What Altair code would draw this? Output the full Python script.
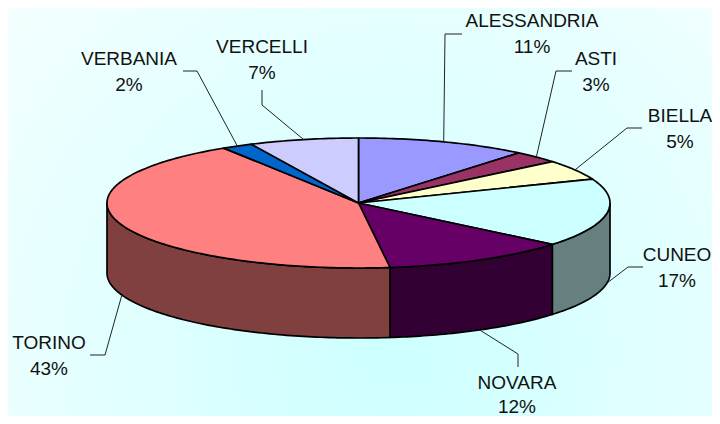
import altair as alt
import numpy as np
import pandas as pd

# ---- data ----
names = ["ALESSANDRIA", "ASTI", "BIELLA", "CUNEO", "NOVARA", "TORINO", "VERBANIA", "VERCELLI"]
shares = [11, 3, 5, 17, 12, 43, 2, 7]
top_colors = ["#9999FF", "#993366", "#FFFFCC", "#CCFFFF", "#660066", "#FF8080", "#0066CC", "#CCCCFF"]
side_colors = ["#4D4D80", "#4D1A33", "#808066", "#668080", "#330033", "#804040", "#003366", "#666680"]

# ---- layout (reference pixel space) ----
CX, CY, RX, RY, DEPTH = 358.5, 203.0, 251.5, 65.0, 70.0
label_x = [532, 596, 680, 677, 517, 49, 129, 262]
label_y = [27, 65, 122, 261, 389, 349, 65, 53]
pct_gap = [25.5, 25.5, 25.5, 25.5, 24.0, 25.5, 25.5, 25.5]
leader_elbows = [
    [(445, 34), (462, 34)],
    [(556, 71), (572, 71)],
    [(627, 128), (642, 128)],
    [(628, 267), (643, 267)],
    [(518, 354), (518, 367)],
    [(105, 355), (90, 355)],
    [(197, 71), (183, 71)],
    [(262, 105), (262, 90)],
]


def pt(theta_deg, drop=0.0):
    t = np.radians(theta_deg)
    return CX + RX * np.sin(t), CY - RY * np.cos(t) + drop


def arc(a, b, drop=0.0):
    n = max(2, int(abs(b - a) / 1.0) + 2)
    th = np.linspace(a, b, n)
    return [pt(t, drop) for t in th]


total = float(sum(shares))
cum = np.concatenate([[0.0], np.cumsum(shares)]) / total * 360.0

top_rows, side_rows, lead_rows = [], [], []
for i, nm in enumerate(names):
    a, b = cum[i], cum[i + 1]
    pts = [(CX, CY)] + arc(a, b) + [(CX, CY)]
    for k, (x, y) in enumerate(pts):
        top_rows.append({"slice": nm, "o": k, "x": x, "y": y, "c": top_colors[i]})
    sa, sb = max(a, 90.0), min(b, 270.0)
    if sb > sa:
        spts = arc(sa, sb) + arc(sb, sa, DEPTH)
        spts.append(spts[0])
        for k, (x, y) in enumerate(spts):
            side_rows.append({"slice": nm, "o": k, "x": x, "y": y, "c": side_colors[i]})
    mid = (a + b) / 2.0
    front = np.cos(np.radians(mid)) < 0
    sx, sy = pt(mid, DEPTH if front else 0.0)
    lpts = [(sx, sy)] + leader_elbows[i]
    for k, (x, y) in enumerate(lpts):
        lead_rows.append({"slice": nm, "o": k, "x": x, "y": y})

top_df = pd.DataFrame(top_rows)
side_df = pd.DataFrame(side_rows)
lead_df = pd.DataFrame(lead_rows)
lab_df = pd.DataFrame({
    "name": names,
    "pct": [f"{v}%" for v in shares],
    "x": label_x,
    "y": label_y,
    "y2": [v + g for v, g in zip(label_y, pct_gap)],
})

W, H = 704, 408
xs = alt.Scale(domain=[8, 8 + W], nice=False, zero=False)
ys = alt.Scale(domain=[8, 8 + H], nice=False, zero=False, reverse=True)

bg = alt.Chart(pd.DataFrame({"a": [0]})).mark_rect(
    fill=alt.Gradient(
        gradient="radial",
        stops=[alt.GradientStop(color="#CCFFFF", offset=0), alt.GradientStop(color="#FFFFFF", offset=1)],
        x1=0.55, y1=0.7, r1=0.0, x2=0.55, y2=0.7, r2=0.95,
    )
).encode(x=alt.value(0), x2=alt.value(W), y=alt.value(0), y2=alt.value(H))


def poly(df):
    return alt.Chart(df).mark_line(stroke="black", strokeWidth=1.7, strokeJoin="round").encode(
        x=alt.X("x:Q", scale=xs, axis=None),
        y=alt.Y("y:Q", scale=ys, axis=None),
        order="o:Q",
        detail="slice:N",
        fill=alt.Fill("c:N", scale=None, legend=None),
    )


sides = poly(side_df)
tops = poly(top_df)

leaders = alt.Chart(lead_df).mark_line(stroke="#222222", strokeWidth=1).encode(
    x=alt.X("x:Q", scale=xs, axis=None),
    y=alt.Y("y:Q", scale=ys, axis=None),
    order="o:Q",
    detail="slice:N",
)

font = "Liberation Sans"
t1 = alt.Chart(lab_df).mark_text(font=font, fontSize=19, color="#111111", align="center", baseline="alphabetic").encode(
    x=alt.X("x:Q", scale=xs, axis=None), y=alt.Y("y:Q", scale=ys, axis=None), text="name:N"
)
t2 = alt.Chart(lab_df).mark_text(font=font, fontSize=19, color="#111111", align="center", baseline="alphabetic").encode(
    x=alt.X("x:Q", scale=xs, axis=None), y=alt.Y("y2:Q", scale=ys, axis=None), text="pct:N"
)

chart = alt.layer(bg, sides, tops, leaders, t1, t2).properties(
    width=W, height=H, padding=0, autosize=alt.AutoSizeParams(type="none")
).configure_view(strokeWidth=0)

chart.save("out.html", embed_options={"renderer": "svg", "actions": False})
